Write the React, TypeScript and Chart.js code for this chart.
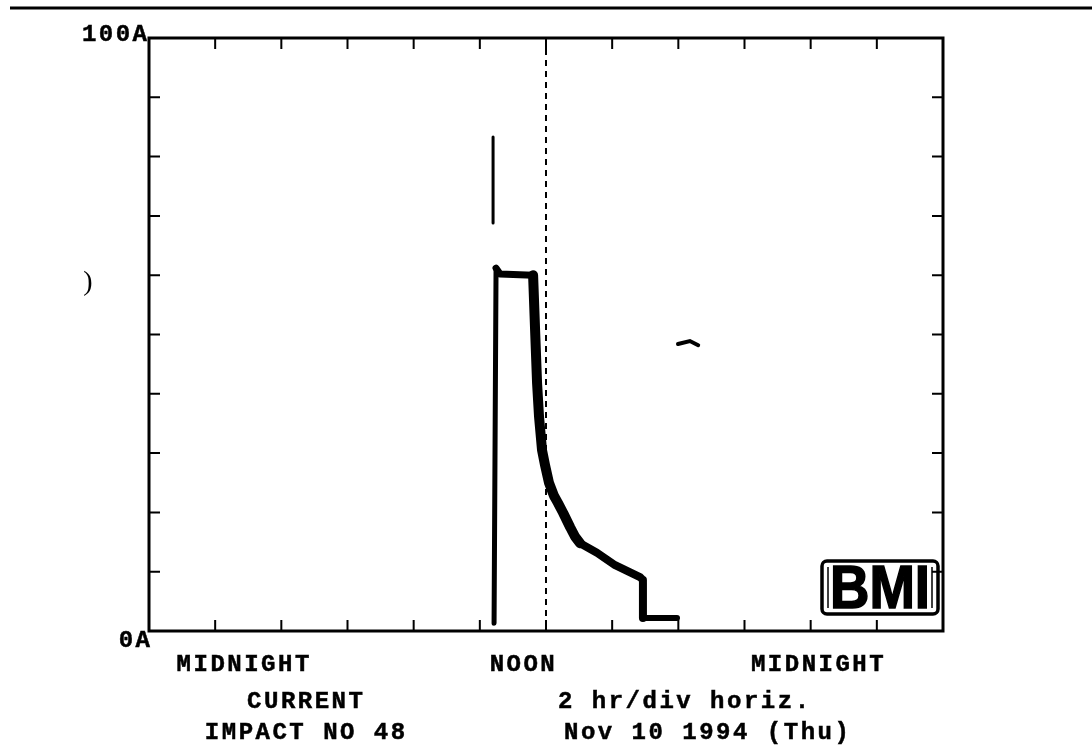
import { useEffect, useRef } from "react";
import { Chart, registerables } from "chart.js";

Chart.register(...registerables);

// ---- data (hours since midnight, amperes) ----
const spikeHours = [10.4, 10.4];
const spikeAmps = [83.3, 68.8];

const traceHours = [10.43, 10.49, 10.61, 11.61, 11.67, 11.73, 11.79, 11.88, 11.97, 12.09, 12.24, 12.36, 12.52, 12.73, 12.88, 13.03, 13.54, 14.09, 14.84, 14.93, 14.93, 15.96];
const traceAmps = [1.3, 61.2, 60.2, 60.0, 50.8, 41.8, 36.1, 30.5, 28.0, 25.0, 22.8, 21.6, 19.9, 17.5, 15.9, 14.8, 13.2, 11.1, 9.1, 8.6, 2.2, 2.2];

const strayHours = [15.99, 16.35, 16.6];
const strayAmps = [48.4, 48.9, 48.2];

const xTickHours = [2, 4, 6, 8, 10, 12, 14, 16, 18, 20, 22];
const yTickAmps = [10, 20, 30, 40, 50, 60, 70, 80, 90];
const noonHour = 12;

const yMaxLabel = "100A";
const yMinLabel = "0A";
const xLabelTexts = ["MIDNIGHT", "NOON", "MIDNIGHT"];
const xLabelHours = [2.84, 11.28, 20.2];
const footerLeft = ["CURRENT", "IMPACT NO 48"];
const footerRight = ["2 hr/div horiz.", "Nov 10 1994 (Thu)"];
const logoText = "BMI";

const W = 1092;
const H = 751;
const MONO = 'bold 24px "Liberation Mono", "DejaVu Sans Mono", monospace';
const SPACING = 2.5;

function monoText(ctx: CanvasRenderingContext2D, text: string, x: number, y: number, align: CanvasTextAlign) {
  ctx.save();
  ctx.font = MONO;
  (ctx as any).letterSpacing = SPACING + "px";
  ctx.textAlign = "left";
  ctx.textBaseline = "middle";
  const w = ctx.measureText(text).width - SPACING;
  let left = x;
  if (align === "center") left = x - w / 2;
  else if (align === "right") left = x - w;
  ctx.fillStyle = "#000";
  ctx.strokeStyle = "#000";
  ctx.lineWidth = 0.5;
  ctx.fillText(text, left, y);
  ctx.strokeText(text, left, y);
  ctx.restore();
}

const decorPlugin = {
  id: "decor",
  beforeDatasetsDraw(chart: any) {
    const ctx: CanvasRenderingContext2D = chart.ctx;
    const { top, bottom } = chart.chartArea;
    const x = chart.scales.x.getPixelForValue(noonHour);
    ctx.save();
    ctx.strokeStyle = "#000";
    ctx.lineWidth = 2;
    ctx.setLineDash([6, 5]);
    ctx.beginPath();
    ctx.moveTo(x, top);
    ctx.lineTo(x, bottom);
    ctx.stroke();
    ctx.restore();
  },
  afterDraw(chart: any) {
    const ctx: CanvasRenderingContext2D = chart.ctx;
    const { left, right, top, bottom } = chart.chartArea;
    const xs = chart.scales.x;
    const ys = chart.scales.y;
    ctx.save();
    ctx.strokeStyle = "#000";
    ctx.fillStyle = "#000";

    // top rule
    ctx.lineWidth = 3;
    ctx.beginPath();
    ctx.moveTo(10, 8);
    ctx.lineTo(W, 8);
    ctx.stroke();

    // frame
    ctx.lineWidth = 3;
    ctx.strokeRect(left, top, right - left, bottom - top);

    // ticks
    ctx.lineWidth = 2;
    const tl = 11;
    ctx.beginPath();
    for (const h of xTickHours) {
      const px = xs.getPixelForValue(h);
      ctx.moveTo(px, top);
      ctx.lineTo(px, top + tl);
      ctx.moveTo(px, bottom);
      ctx.lineTo(px, bottom - tl);
    }
    for (const a of yTickAmps) {
      const py = ys.getPixelForValue(a);
      ctx.moveTo(left, py);
      ctx.lineTo(left + tl, py);
      ctx.moveTo(right, py);
      ctx.lineTo(right - tl, py);
    }
    ctx.stroke();

    // axis labels
    monoText(ctx, yMaxLabel, left - 2, ys.getPixelForValue(100) - 3, "right");
    monoText(ctx, yMinLabel, left + 1, ys.getPixelForValue(0) + 10, "right");
    xLabelTexts.forEach((t, i) => {
      monoText(ctx, t, xs.getPixelForValue(xLabelHours[i]), bottom + 34, "center");
    });
    monoText(ctx, footerLeft[0], 305, bottom + 71, "center");
    monoText(ctx, footerLeft[1], 305, bottom + 102, "center");
    monoText(ctx, footerRight[0], 558, bottom + 71, "left");
    monoText(ctx, footerRight[1], 564, bottom + 102, "left");

    // stray mark on the left
    ctx.font = '28px "Liberation Serif", serif';
    ctx.textAlign = "center";
    ctx.textBaseline = "middle";
    ctx.fillText(")", 88, 283);

    // BMI logo
    const bx = 822, by = 561, bw = 116, bh = 53;
    ctx.lineWidth = 3.5;
    ctx.beginPath();
    (ctx as any).roundRect(bx, by, bw, bh, 5);
    ctx.stroke();
    ctx.lineWidth = 1.5;
    ctx.beginPath();
    ctx.moveTo(bx + 6, by + 6);
    ctx.lineTo(bx + 6, by + bh - 6);
    ctx.moveTo(bx + bw - 6, by + 6);
    ctx.lineTo(bx + bw - 6, by + bh - 6);
    ctx.stroke();
    ctx.font = 'bold 56px "Liberation Sans", Arial, sans-serif';
    ctx.textAlign = "center";
    ctx.textBaseline = "alphabetic";
    const tw = ctx.measureText(logoText).width;
    ctx.save();
    ctx.translate(bx + bw / 2, by + bh - 6);
    ctx.scale(Math.min(1, (bw - 16) / tw), 1.08);
    ctx.lineWidth = 1.5;
    ctx.fillText(logoText, 0, 0);
    ctx.strokeText(logoText, 0, 0);
    ctx.restore();

    ctx.restore();
  },
};

export default function App() {
  const ref = useRef<HTMLCanvasElement | null>(null);
  useEffect(() => {
    if (!ref.current) return;
    const pts = (xs: number[], ys: number[]) => xs.map((x, i) => ({ x, y: ys[i] }));
    const n = traceHours.length;
    const traceWidth = (i: number) => {
      if (i === 0) return 5;
      if (i <= 2) return 7;
      if (i === n - 2) return 6;
      if (i === n - 3) return 8;
      if (i >= 15) return 8;
      return 10;
    };
    const chart = new Chart(ref.current, {
      type: "line",
      data: {
        datasets: [
          {
            data: pts(spikeHours, spikeAmps),
            borderColor: "#000",
            borderWidth: 3,
            borderCapStyle: "round",
            pointRadius: 0,
          },
          {
            data: pts(traceHours, traceAmps),
            borderColor: "#000",
            borderWidth: 8,
            borderCapStyle: "round",
            borderJoinStyle: "round",
            pointRadius: 0,
            segment: {
              borderWidth: (c: any) => traceWidth(c.p0DataIndex),
            },
          },
          {
            data: pts(strayHours, strayAmps),
            borderColor: "#000",
            borderWidth: 4,
            borderCapStyle: "round",
            pointRadius: 0,
          },
        ],
      },
      options: {
        responsive: false,
        animation: false,
        layout: { padding: { left: 149, top: 38, right: W - 943, bottom: H - 631 } },
        plugins: { legend: { display: false }, tooltip: { enabled: false } },
        scales: {
          x: { type: "linear", min: 0, max: 24, display: false },
          y: { type: "linear", min: 0, max: 100, display: false },
        },
        elements: { line: { tension: 0 }, point: { radius: 0 } },
      } as any,
      plugins: [decorPlugin],
    });
    return () => chart.destroy();
  }, []);
  return (
    <div style={{ position: "fixed", left: 0, top: 0, width: W, height: H, background: "#fff" }}>
      <canvas ref={ref} width={W} height={H} style={{ width: W, height: H, display: "block" }} />
    </div>
  );
}
